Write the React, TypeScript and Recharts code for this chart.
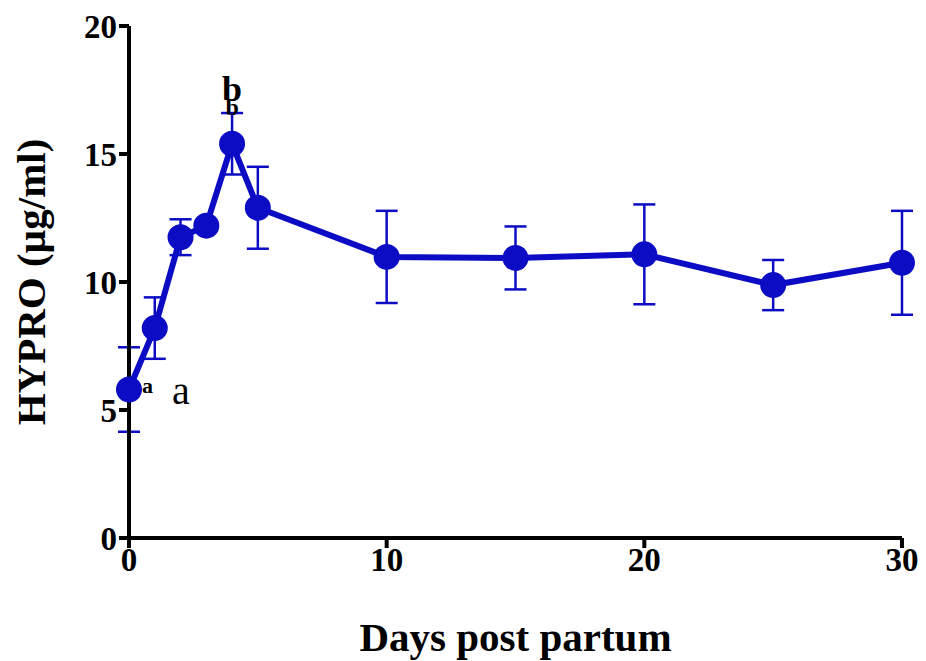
import { ComposedChart, Line, XAxis, YAxis, ErrorBar, ReferenceDot } from 'recharts';

const days = [0, 1, 2, 3, 4, 5, 10, 15, 20, 25, 30];
const hypro = [5.8, 8.2, 11.75, 12.2, 15.4, 12.9, 10.98, 10.94, 11.08, 9.88, 10.75];
const sem = [1.65, 1.2, 0.7, 0.15, 1.2, 1.6, 1.8, 1.23, 1.95, 0.98, 2.03];
const xTicks = [0, 10, 20, 30];
const yTicks = [0, 5, 10, 15, 20];

const data = days.map((d, i) => ({ day: d, y: hypro[i], err: sem[i] }));

const blue = '#0c0cc4';
const font = '"Liberation Serif", "Times New Roman", serif';
const tickStyle = { fontFamily: font, fontSize: 33, fontWeight: 700, fill: '#000' };
const axisStroke = { stroke: '#000', strokeWidth: 4 };

export default function App() {
  return (
    <div style={{ position: 'absolute', left: 0, top: 0, background: '#fff' }}>
      <ComposedChart width={926} height={661} data={data} margin={{ top: 26, right: 24, bottom: 0, left: 0 }}>
        <XAxis
          dataKey="day"
          type="number"
          domain={[0, 30]}
          ticks={xTicks}
          stroke="#000"
          strokeWidth={4}
          axisLine={axisStroke}
          tickLine={axisStroke}
          tickSize={10}
          tickMargin={0}
          tick={tickStyle}
          height={123}
          label={{ value: 'Days post partum', position: 'insideBottom', offset: 10, style: { fontFamily: font, fontSize: 41, fontWeight: 700, fill: '#000' } }}
        />
        <YAxis
          type="number"
          domain={[0, 20]}
          ticks={yTicks}
          stroke="#000"
          strokeWidth={4}
          axisLine={axisStroke}
          tickLine={axisStroke}
          tickSize={10}
          tickMargin={2}
          tick={tickStyle}
          width={129}
          label={{ value: 'HYPRO (µg/ml)', angle: -90, position: 'insideLeft', offset: 30, style: { textAnchor: 'middle', fontFamily: font, fontSize: 41, fontWeight: 700, fill: '#000' } }}
        />
        <Line dataKey="y" stroke={blue} strokeWidth={6} dot={{ r: 10, fill: blue, stroke: blue }} isAnimationActive={false}>
          <ErrorBar dataKey="err" width={11} stroke={blue} strokeWidth={2.5} direction="y" />
        </Line>
        <ReferenceDot x={0} y={5.8} r={0} label={{ value: 'a', position: 'right', dx: 8, dy: -4, style: { fontFamily: font, fontSize: 22, fontWeight: 700, fill: '#000' } }} />
        <ReferenceDot x={0} y={5.8} r={0} label={{ value: 'a', position: 'right', dx: 38, dy: 0, style: { fontFamily: font, fontSize: 40, fill: '#000' } }} />
        <ReferenceDot x={4} y={15.4} r={0} label={{ value: 'b', position: 'top', dy: -38, style: { fontFamily: font, fontSize: 36, fontWeight: 700, fill: '#000' } }} />
        <ReferenceDot x={4} y={15.4} r={0} label={{ value: 'b', position: 'top', dy: -24, style: { fontFamily: font, fontSize: 24, fontWeight: 700, fill: '#000' } }} />
      </ComposedChart>
    </div>
  );
}
